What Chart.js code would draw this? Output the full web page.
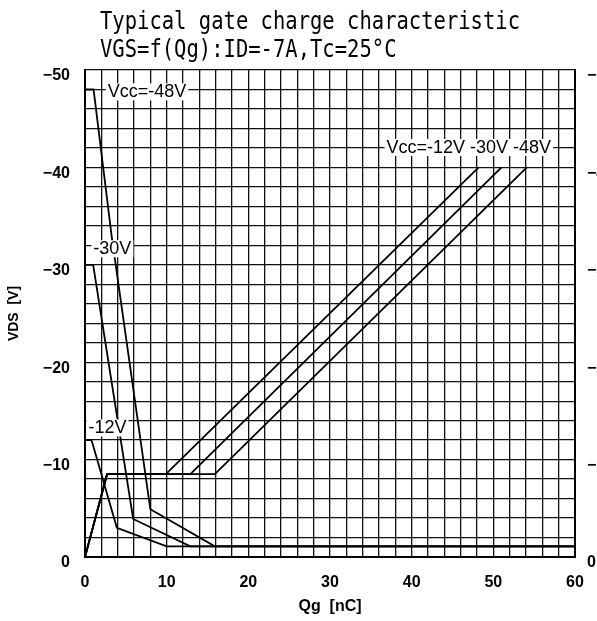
<!DOCTYPE html>
<html>
<head>
<meta charset="utf-8">
<script src="https://cdn.jsdelivr.net/npm/chart.js@4.4.1/dist/chart.umd.min.js"></script>
<style>
  html, body { margin: 0; padding: 0; background: #fff; overflow: hidden; }
  #wrap { width: 620px; height: 621px; }
</style>
</head>
<body>
<div id="wrap"><canvas id="myChart" width="620" height="621"></canvas></div>
<script>
'use strict';
// Qg [nC] / VDS [V]
let vdsQg12 = [0, 0.8, 3.9, 10.0, 60];
let vds12 = [-12, -12, -3.0, -1.1, -1.1];
let vdsQg30 = [0, 1.0, 5.9, 12.9, 60];
let vds30 = [-30, -30, -3.9, -1.1, -1.1];
let vdsQg48 = [0, 1.05, 3.27, 8.0, 15.9, 60];
let vds48 = [-48, -48, -32.9, -4.9, -1.1, -1.1];

let vgsQg12 = [0, 2.7, 9.9, 48.2];
let vgsQg30 = [0, 2.7, 12.9, 51.0];
let vgsQg48 = [0, 2.7, 15.9, 54.1];
let vgs = [0, -8.5, -8.5, -40];

let xTicks = [0, 10, 20, 30, 40, 50, 60];
let yTicks = [-50, -40, -30, -20, -10, 0];

let titleLines = ['Typical gate charge characteristic', 'VGS=f(Qg):ID=-7A,Tc=25\u00b0C'];
let noteText = ['Vcc=-48V', '-30V', '-12V', 'Vcc=-12V -30V -48V'];
let noteQg = [7.6, 3.35, 2.75, 47.0];
let noteV = [-47.7, -31.6, -13.2, -42.0];

function pts(xs, ys) {
  let out = [];
  for (let i = 0; i < xs.length; i++) {
    out.push({ x: xs[i], y: ys[i] });
  }
  return out;
}

function line(data) {
  return {
    data: data,
    showLine: true,
    borderColor: '#000',
    borderWidth: 1.8,
    pointRadius: 0,
    tension: 0,
    yAxisID: 'y'
  };
}

// long minus like the scan
function volt(v) {
  return v < 0 ? '\u2212' + Math.abs(v) : String(v);
}

// labels with white boxes, placed in data units
let notes = {
  id: 'notes',
  afterDatasetsDraw(chart) {
    let ctx = chart.ctx;
    let xs = chart.scales.x;
    let ys = chart.scales.y;
    ctx.save();
    ctx.font = '18px "Liberation Sans", Arial, sans-serif';
    ctx.textAlign = 'center';
    ctx.textBaseline = 'middle';
    for (let i = 0; i < noteText.length; i++) {
      let px = xs.getPixelForValue(noteQg[i]);
      let py = ys.getPixelForValue(noteV[i]);
      let w = ctx.measureText(noteText[i]).width;
      ctx.fillStyle = '#fff';
      ctx.fillRect(px - w / 2 - 2, py - 9, w + 4, 17);
      ctx.fillStyle = '#000';
      ctx.fillText(noteText[i], px, py);
    }
    ctx.restore();
  }
};

// two line heading, mono and a little condensed like the scan
let heading = {
  id: 'heading',
  afterDraw(chart) {
    let ctx = chart.ctx;
    ctx.save();
    ctx.fillStyle = '#000';
    ctx.font = '24px "DejaVu Sans Mono", monospace';
    ctx.textBaseline = 'alphabetic';
    let base = [29, 56.5];
    for (let i = 0; i < titleLines.length; i++) {
      ctx.save();
      ctx.translate(100, base[i]);
      ctx.scale(0.855, 1);
      ctx.fillText(titleLines[i], 0, 0);
      ctx.restore();
    }
    ctx.restore();
  }
};

let tickFont = { family: '"Liberation Sans", Arial, sans-serif', size: 16, weight: 'bold' };

let ctx = document.getElementById('myChart').getContext('2d');
let myChart = new Chart(ctx, {
  type: 'scatter',
  data: {
    datasets: [
      line(pts(vdsQg12, vds12)),
      line(pts(vdsQg30, vds30)),
      line(pts(vdsQg48, vds48)),
      line(pts(vgsQg12, vgs)),
      line(pts(vgsQg30, vgs)),
      line(pts(vgsQg48, vgs))
    ]
  },
  options: {
    responsive: false,
    animation: false,
    devicePixelRatio: 1,
    layout: { padding: { top: 70, left: 0, right: 0, bottom: 0 } },
    plugins: {
      legend: { display: false },
      tooltip: { enabled: false },
      title: { display: false }
    },
    scales: {
      x: {
        type: 'linear',
        min: 0,
        max: 60,
        afterFit(s) { s.height = 64; },
        afterBuildTicks(s) {
          let t = [];
          for (let v = 0; v <= 60; v += 2) t.push({ value: v });
          s.ticks = t;
        },
        grid: { color: '#111', lineWidth: 1.3, drawTicks: false },
        border: { color: '#000', width: 2 },
        ticks: {
          autoSkip: false,
          maxRotation: 0,
          padding: 16,
          color: '#000',
          font: tickFont,
          callback: v => xTicks.includes(v) ? String(v) : ''
        },
        title: {
          display: true,
          text: 'Qg  [nC]',
          color: '#000',
          font: { family: '"Liberation Sans", Arial, sans-serif', size: 16, weight: 'bold' },
          padding: { top: 0, bottom: 5 }
        }
      },
      y: {
        type: 'linear',
        position: 'left',
        min: -50,
        max: 0,
        reverse: true,
        afterFit(s) { s.width = 85; },
        afterBuildTicks(s) {
          let t = [];
          for (let v = -50; v <= 0; v += 2) t.push({ value: v });
          s.ticks = t;
        },
        grid: { color: '#111', lineWidth: 1.3, drawTicks: false },
        border: { color: '#000', width: 2 },
        ticks: {
          autoSkip: false,
          padding: 15,
          labelOffset: 6,
          color: '#000',
          font: tickFont,
          callback: v => yTicks.includes(v) ? volt(v) : ''
        },
        title: {
          display: true,
          text: 'VDS  [V]',
          color: '#000',
          font: { family: '"Liberation Sans", Arial, sans-serif', size: 14, weight: 'bold' },
          padding: { top: 6, bottom: 0 }
        }
      },
      y2: {
        type: 'linear',
        position: 'right',
        min: -50,
        max: 0,
        reverse: true,
        afterFit(s) { s.width = 45; },
        grid: { display: false, drawTicks: false },
        border: { color: '#000', width: 2 },
        ticks: {
          stepSize: 10,
          padding: 12,
          labelOffset: 6,
          color: '#000',
          font: tickFont,
          callback: v => volt(v)
        }
      }
    }
  },
  plugins: [notes, heading]
});
</script>
</body>
</html>
